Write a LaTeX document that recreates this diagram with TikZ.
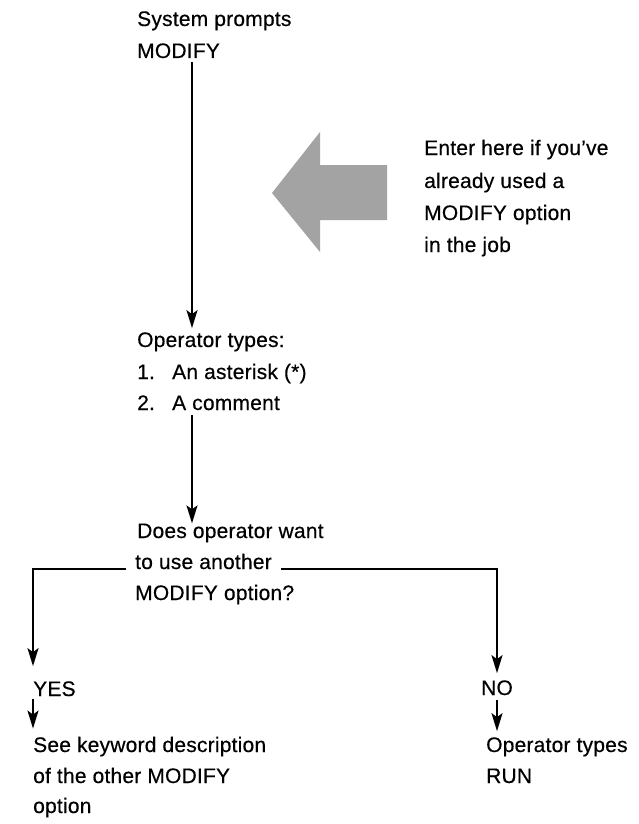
\documentclass[tikz,border=0pt]{standalone}
\usepackage{fontspec}
\setmainfont{Liberation Sans}[LetterSpace=1,FakeBold=0.4]
\usetikzlibrary{arrows.meta}
\begin{document}
\begin{tikzpicture}[x=1pt,y=-1pt,
  txt/.style={anchor=base west,inner sep=0pt,font=\fontsize{21}{25}\selectfont},
  flow/.style={line width=1.8pt,-{Stealth[length=18pt,width=11pt,inset=4pt]}},
  bigarrow/.style={fill=black!36}]
\useasboundingbox[fill=white] (0,0) rectangle (638,824);
% texts
\node[txt] (sys1) at (137,26) {System prompts};
\node[txt] (sys2) at (137,58) {MODIFY};
\node[txt] (ent1) at (424,155) {Enter here if you’ve};
\node[txt] (ent2) at (424,188) {already used a};
\node[txt] (ent3) at (424,220) {MODIFY option};
\node[txt] (ent4) at (424,252) {in the job};
\node[txt] (op1) at (137,347) {Operator types:};
\node[txt] (op2) at (137,379) {\makebox[35pt][l]{1.}An asterisk (*)};
\node[txt] (op3) at (137,410) {\makebox[35pt][l]{2.}A comment};
\node[txt] (q1) at (137,538) {Does operator want};
\node[txt] (q2) at (135,569) {to use another};
\node[txt] (q3) at (135,600) {MODIFY option?};
\node[txt] (yes) at (33,696) {YES};
\node[txt] (see1) at (33,752) {See keyword description};
\node[txt] (see2) at (33,783) {of the other MODIFY};
\node[txt] (see3) at (33,813) {option};
\node[txt,anchor=base] (no) at (497,695) {NO};
\node[txt] (run1) at (486,752) {Operator types};
\node[txt] (run2) at (486,783) {RUN};
% big gray entry arrow
\fill[bigarrow] (272,193) -- (320,132) -- (320,165) -- (387,165) -- (387,220) -- (320,220) -- (320,252) -- cycle;
% connectors
\draw[flow,shorten <=4pt,shorten >=4pt] ([xshift=55pt]sys2.south west) -- ([xshift=55pt]op1.north west);
\draw[flow,shorten <=5pt,shorten >=0pt] ([xshift=55pt]op3.south west) -- ([xshift=55pt]q1.north west);
\draw[flow,shorten <=9pt,shorten >=15pt] (q2.base west) -| (yes.north west);
\draw[flow,shorten <=9pt,shorten >=7pt] (q2.base east) -| (no.north);
\draw[flow,shorten <=3pt,shorten >=8pt] (yes.south west) -- (see1.north west);
\draw[flow,shorten <=5pt,shorten >=6pt] (no.south) -- (no.south |- run1.north);
\end{tikzpicture}
\end{document}
